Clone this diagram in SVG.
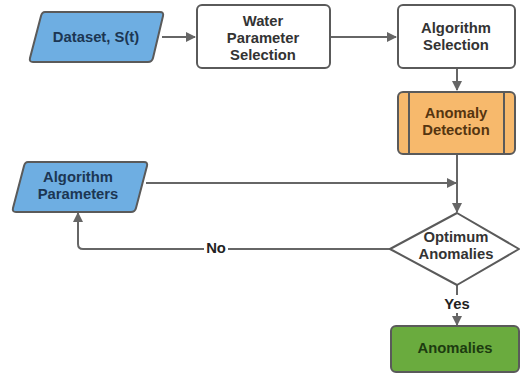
<svg xmlns="http://www.w3.org/2000/svg" width="520" height="374" viewBox="0 0 520 374">
<style>
text{font-family:"Liberation Sans",Arial,sans-serif;font-weight:bold;font-size:14.8px;text-anchor:middle;dominant-baseline:central}
.box{stroke:#5a5a5a;stroke-width:2}
.conn{fill:none;stroke:#666;stroke-width:2}
</style>
<defs>
<marker id="ah" markerWidth="10" markerHeight="10" refX="9" refY="5" orient="auto" markerUnits="userSpaceOnUse"><path d="M0,0 L10,5 L0,10 Z" fill="#666"/></marker>
</defs>
<rect width="520" height="374" fill="#fff"/>
<g id="connectors">
<path class="conn" d="M162,37 H195" marker-end="url(#ah)"/>
<path class="conn" d="M330,37 H396" marker-end="url(#ah)"/>
<path class="conn" d="M457,68 V90" marker-end="url(#ah)"/>
<path class="conn" d="M457,154 V212" marker-end="url(#ah)"/>
<path class="conn" d="M146,183 H456" marker-end="url(#ah)"/>
<path class="conn" d="M390,249 H83 Q78,249 78,244 V213" marker-end="url(#ah)"/>
<path class="conn" d="M457,285 V325" marker-end="url(#ah)"/>
<rect x="204" y="240" width="24" height="17" fill="#fff"/>
<text x="216" y="248" fill="#222">No</text>
<rect x="443" y="295" width="28" height="18" fill="#fff"/>
<text x="457" y="304" fill="#222">Yes</text>
</g>
<g id="dataset">
<path class="box" d="M45,12 H160 Q164,12 163,16 L153,58 Q152,62 148,62 H33 Q29,62 30,58 L41,16 Q42,12 45,12 Z" fill="#6eaee2"/>
<text x="96" y="37" fill="#1c3653" font-size="16.5">Dataset, S(t)</text>
</g>
<g id="water">
<rect class="box" x="197" y="5" width="133" height="63" rx="5" fill="#fff"/>
<text x="263" y="21" fill="#333">Water</text>
<text x="263" y="38" fill="#333">Parameter</text>
<text x="263" y="55" fill="#333">Selection</text>
</g>
<g id="algsel">
<rect class="box" x="398" y="5" width="117" height="63" rx="5" fill="#fff"/>
<text x="456" y="28" fill="#333">Algorithm</text>
<text x="456" y="45" fill="#333">Selection</text>
</g>
<g id="anomaly-detection">
<rect class="box" x="398" y="92" width="117" height="62" rx="5" fill="#f7b96c"/>
<line class="box" x1="409" y1="92" x2="409" y2="154"/>
<line class="box" x1="504" y1="92" x2="504" y2="154"/>
<text x="456" y="113" fill="#553510">Anomaly</text>
<text x="456" y="130" fill="#553510">Detection</text>
</g>
<g id="algparams">
<path class="box" d="M28,162 H144 Q148,162 147,166 L136,208 Q135,212 131,212 H16 Q12,212 13,208 L24,166 Q25,162 28,162 Z" fill="#6eaee2"/>
<text x="78" y="177" fill="#1c3653">Algorithm</text>
<text x="78" y="194" fill="#1c3653">Parameters</text>
</g>
<g id="optimum">
<path class="box" d="M457,213 L519,249 L457,285 L390,249 Z" fill="#fff" stroke-linejoin="round"/>
<text x="456" y="237" fill="#333">Optimum</text>
<text x="456" y="254" fill="#333">Anomalies</text>
</g>
<g id="anomalies">
<rect class="box" x="391" y="326" width="128" height="46" rx="5" fill="#6aab3e"/>
<text x="455" y="348" fill="#1d3b10">Anomalies</text>
</g>
</svg>
